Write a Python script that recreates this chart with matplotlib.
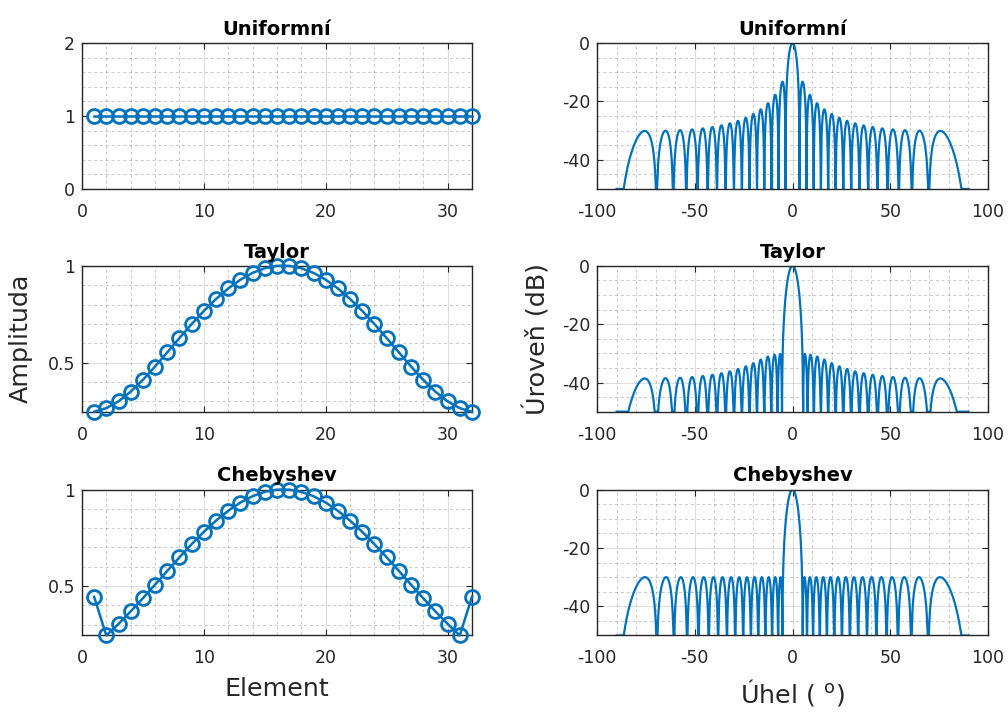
import numpy as np
import matplotlib
matplotlib.use("Agg")
import matplotlib.pyplot as plt
from matplotlib.ticker import MultipleLocator

plt.rcParams["font.family"] = "DejaVu Sans"
plt.rcParams["axes.unicode_minus"] = False

# amplitude weights of the 32 elements
elements = list(range(1, 33))
uniform = [1.0] * 32
taylor_half = [0.2458, 0.2641, 0.2994, 0.3493, 0.4105, 0.4795, 0.5526, 0.6266,
               0.6988, 0.7667, 0.8286, 0.8830, 0.9283, 0.9636, 0.9877, 1.0000]
cheb_half = [0.4439, 0.2433, 0.3035, 0.3684, 0.4367, 0.5072, 0.5785, 0.6490,
             0.7170, 0.7809, 0.8392, 0.8904, 0.9330, 0.9660, 0.9886, 1.0000]
taylor = taylor_half + taylor_half[::-1]
cheb = cheb_half + cheb_half[::-1]

titles = ["Uniformní", "Taylor", "Chebyshev"]
weights = [uniform, taylor, cheb]

# array factor, half-wave spacing, floor at -50 dB
theta = np.linspace(-90, 90, 36001)
floor_db = -50

def pattern(w):
    w = np.asarray(w)
    n = np.arange(len(w))
    psi = np.pi * np.sin(np.deg2rad(theta))
    af = np.abs(np.exp(1j * np.outer(psi, n)) @ w)
    db = 20 * np.log10(af / af.max() + 1e-12)
    return np.maximum(db, floor_db)

blue = "#0072BD"
dark = "#262626"

fig = plt.figure(figsize=(10.08, 7.15), dpi=100)
lefts = [0.0813, 0.5923]
widths = [0.3869, 0.3879]
bottoms = [0.7357, 0.4242, 0.1112]
height = 0.2040

def style(ax):
    ax.grid(True, which="major", color=dark, alpha=0.15, lw=0.8)
    ax.grid(True, which="minor", color=dark, alpha=0.25, lw=0.7, ls=(0, (3, 3)))
    ax.tick_params(which="major", direction="in", length=4, width=0.8,
                   top=True, right=True, colors=dark, labelsize=12.5)
    ax.tick_params(axis="x", pad=10)
    ax.tick_params(axis="y", pad=5)
    ax.tick_params(which="minor", length=0)
    for s in ax.spines.values():
        s.set_color(dark)
        s.set_linewidth(1.0)

for i in range(3):
    ax = fig.add_axes([lefts[0], bottoms[i], widths[0], height])
    ax.plot(elements, weights[i], "o-", color=blue, lw=1.8, ms=10,
            mfc="none", mew=2, clip_on=False, zorder=3)
    ax.set_xlim(0, 32)
    ax.xaxis.set_major_locator(MultipleLocator(10))
    ax.xaxis.set_minor_locator(MultipleLocator(2))
    if i == 0:
        ax.set_ylim(0, 2)
        ax.yaxis.set_major_locator(MultipleLocator(1))
        ax.yaxis.set_minor_locator(MultipleLocator(0.2))
    else:
        ax.set_ylim(min(weights[i]), 1)
        ax.yaxis.set_major_locator(MultipleLocator(0.5))
        ax.yaxis.set_minor_locator(MultipleLocator(0.1))
        ax.yaxis.set_major_formatter(plt.FuncFormatter(lambda v, p: f"{v:g}"))
    style(ax)
    ax.set_title(titles[i], fontsize=14, fontweight="bold", pad=6)
    if i == 1:
        ax.set_ylabel("Amplituda", fontsize=18.3, color=dark)
        ax.yaxis.set_label_coords(-0.1256, 0.5)
    if i == 2:
        ax.set_xlabel("Element", fontsize=18.3, color=dark)
        ax.xaxis.set_label_coords(0.5, -0.285)

    ax = fig.add_axes([lefts[1], bottoms[i], widths[1], height])
    ax.plot(theta, pattern(weights[i]), color=blue, lw=1.6)
    ax.set_xlim(-100, 100)
    ax.set_ylim(-50, 0)
    ax.xaxis.set_major_locator(MultipleLocator(50))
    ax.xaxis.set_minor_locator(MultipleLocator(10))
    ax.yaxis.set_major_locator(MultipleLocator(20))
    ax.yaxis.set_minor_locator(MultipleLocator(5))
    style(ax)
    ax.set_title(titles[i], fontsize=14, fontweight="bold", pad=6)
    if i == 1:
        ax.set_ylabel("Úroveň (dB)", fontsize=18.3, color=dark)
        ax.yaxis.set_label_coords(-0.120, 0.5)
    if i == 2:
        ax.set_xlabel("Úhel ( $^{\\mathrm{o}}$)", fontsize=18.3, color=dark)
        ax.xaxis.set_label_coords(0.5, -0.285)

fig.savefig("out.png", dpi=100, facecolor="white")
